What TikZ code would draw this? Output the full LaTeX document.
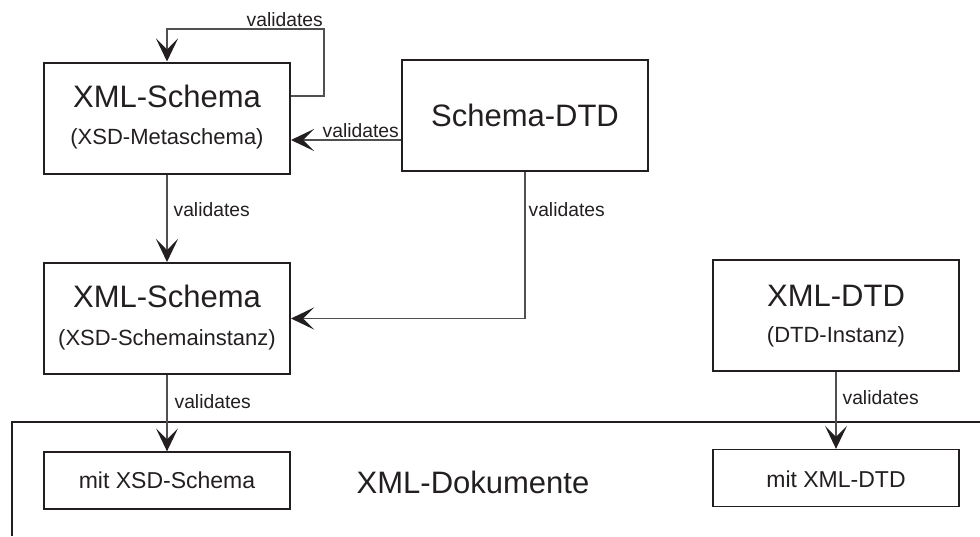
\documentclass[tikz,border=0pt]{standalone}
\usepackage{fontspec}
\setmainfont{Liberation Sans}
\usetikzlibrary{arrows.meta}
\definecolor{ink}{HTML}{231F20}
\definecolor{wire}{HTML}{505050}
\begin{document}
\begin{tikzpicture}[x=1pt,y=-1pt,
  box/.style={draw=ink, line width=2pt, minimum width=246pt, minimum height=111pt, inner sep=0pt},
  docbox/.style={draw=ink, line width=1.3pt, minimum width=246pt, minimum height=57pt, inner sep=0pt},
  title/.style={font=\fontsize{31}{31}\selectfont, text=ink, anchor=base, inner sep=0pt},
  subtitle/.style={font=\fontsize{22}{22}\selectfont, text=ink, anchor=base, inner sep=0pt},
  doctext/.style={font=\fontsize{23}{23}\selectfont, text=ink, anchor=base, inner sep=0pt},
  lbl/.style={font=\fontsize{19.3}{19.3}\selectfont, text=ink, inner sep=0pt},
  flow/.style={draw=wire, line width=1.2pt, -{Stealth[length=23pt,width=22pt,inset=11pt,color=ink]}},
]
\useasboundingbox (0,0) rectangle (980,536);

% container for the documents
\coordinate (frameBL) at (12,536);
\coordinate (frameTL) at (12,422);
\coordinate (frameTR) at (980,422);
\draw[ink, line width=2pt] (frameBL) -- (frameTL) -- (frameTR);
\node[title] (docs) at (473,493) {XML-Dokumente};

% schema boxes
\node[box] (A) at (167,118) {};
\node[title] (Atitle) at (167,107) {XML-Schema};
\node[subtitle] (Asub) at (167,144) {(XSD-Metaschema)};

\node[box] (B) at (525,115.5) {};
\node[title] (Btitle) at (525,126) {Schema-DTD};

\node[box] (C) at (167,318.5) {};
\node[title] (Ctitle) at (167,307) {XML-Schema};
\node[subtitle] (Csub) at (167,345) {(XSD-Schemainstanz)};

\node[box] (D) at (836,315.5) {};
\node[title] (Dtitle) at (836,306) {XML-DTD};
\node[subtitle] (Dsub) at (836,342) {(DTD-Instanz)};

% document boxes
\node[docbox] (E) at (167,480.5) {};
\node[doctext] (Etext) at (167,488) {mit XSD-Schema};
\node[docbox] (F) at (836,478) {};
\node[doctext] (Ftext) at (836,487) {mit XML-DTD};

% validation connectors
\draw[flow] ([yshift=22pt]A.east) -- ++(33,0) -- ++(0,-67) coordinate (loopcorner) -| (A.north);
\node[lbl, anchor=south east] (loopLbl) at ([xshift=-1pt,yshift=2pt]loopcorner) {validates};

\draw[flow] ([yshift=-24.5pt]B.west) coordinate (bw) -- (bw -| A.east);
\node[lbl, anchor=south east] (baLbl) at ([xshift=-2pt,yshift=2.5pt]bw) {validates};

\draw[flow] (A.south) -- (C.north) node[lbl, pos=0.4, anchor=west, xshift=6pt] {validates};
\draw[flow] (B.south) |- (C.east) node[lbl, pos=0.13, anchor=west, xshift=3pt] {validates};
\draw[flow] (C.south) -- (E.north) node[lbl, pos=0.35, anchor=west, xshift=7pt] {validates};
\draw[flow] (D.south) -- (F.north) node[lbl, pos=0.33, anchor=west, xshift=6pt] {validates};
\end{tikzpicture}
\end{document}
